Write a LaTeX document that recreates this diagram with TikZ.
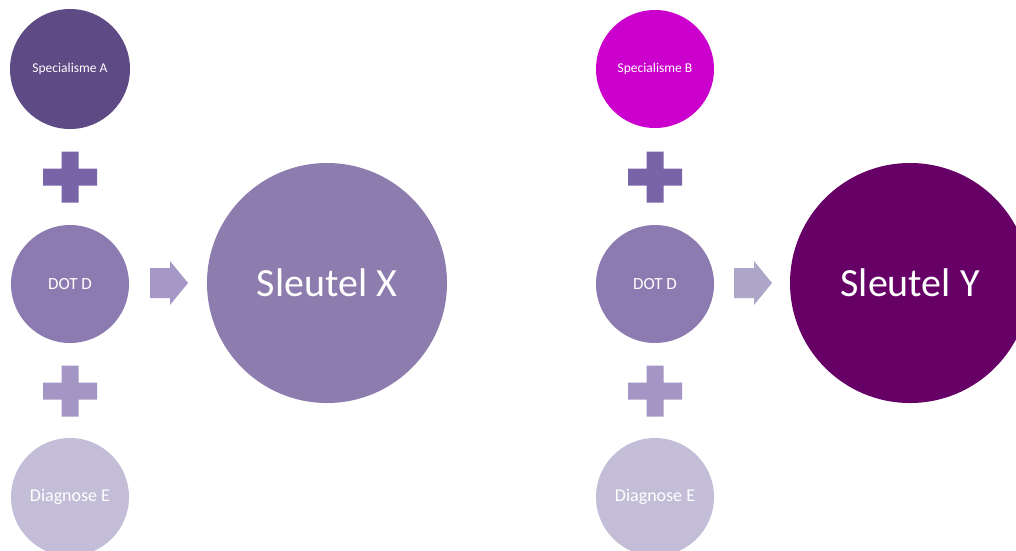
\documentclass[tikz,border=0pt]{standalone}
\usepackage{fontspec}
\setmainfont{Carlito}
\definecolor{specA}{HTML}{5E4A85}
\definecolor{plusA}{HTML}{7A64A8}
\definecolor{dotd}{HTML}{8C7BB0}
\definecolor{sleutX}{HTML}{8D7CAE}
\definecolor{plusB}{HTML}{A396C4}
\definecolor{arrL}{HTML}{A597C6}
\definecolor{diagE}{HTML}{C3BDD7}
\definecolor{specB}{HTML}{CC00CC}
\definecolor{sleutY}{HTML}{660066}
\definecolor{arrR}{HTML}{ADA6C9}
\tikzset{
  disc/.style={circle, inner sep=0pt, minimum size=#1, text=white, align=center},
  plussym/.pic={\fill[pic actions] (-27,-8.5) -| (-8.5,-25.5) -| (8.5,-8.5) -| (27,8.5) -| (8.5,25.5) -| (-8.5,8.5) -| (-27,8.5) -- cycle;},
  arrowsym/.pic={\fill[pic actions] (-19,-15) -- (1,-15) -- (1,-22) -- (19,0) -- (1,22) -- (1,15) -- (-19,15) -- cycle;}
}
\begin{document}
\begin{tikzpicture}[x=1pt,y=-1pt]
\useasboundingbox (0,0) rectangle (1016,550);
\fill[white] (0,0) rectangle (1016,550);
\clip (0,0) rectangle (1016,550);
% left group
\node[disc=120, fill=specA, font=\fontsize{13.5}{16}\selectfont] (sa) at (70,69) {Specialisme A};
\pic[fill=plusA] (pa1) at (70,177) {plussym};
\node[disc=118, fill=dotd, font=\fontsize{17}{20}\selectfont] (da) at (70,284) {DOT D};
\pic[fill=plusB] (pa2) at (70,391) {plussym};
\node[disc=118, fill=diagE, font=\fontsize{18}{21}\selectfont] (ea) at (70,497) {Diagnose E};
\pic[fill=arrL] (aa) at (169,283) {arrowsym};
\node[disc=240, fill=sleutX, font=\fontsize{40}{46}\selectfont] (sx) at (327,283) {Sleutel X};
% right group
\node[disc=118, fill=specB, font=\fontsize{13.5}{16}\selectfont] (sb) at (655,69) {Specialisme B};
\pic[fill=plusA] (pb1) at (655,177) {plussym};
\node[disc=118, fill=dotd, font=\fontsize{17}{20}\selectfont] (db) at (655,284) {DOT D};
\pic[fill=plusB] (pb2) at (655,391) {plussym};
\node[disc=118, fill=diagE, font=\fontsize{18}{21}\selectfont] (eb) at (655,497) {Diagnose E};
\pic[fill=arrR] (ab) at (753,283) {arrowsym};
\node[disc=240, fill=sleutY, font=\fontsize{40}{46}\selectfont] (sy) at (910,283) {Sleutel Y};
\end{tikzpicture}
\end{document}
